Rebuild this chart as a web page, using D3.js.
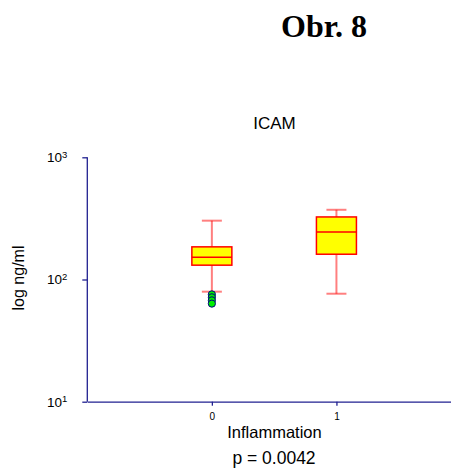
<!DOCTYPE html>
<meta charset="utf-8">
<head>
    <title>ICAM</title>
    <script src="https://cdn.jsdelivr.net/npm/d3@7"></script>
</head>

<style>
    body { margin: 0; background: white; }
    text { font-family: "Liberation Sans", Arial, sans-serif; fill: black; }
    .axis path, .axis line { stroke: #202090; stroke-width: 1.3px; }
    .whisker { stroke: #ff0000; stroke-opacity: 0.5; stroke-width: 2px; }
    .box { fill: #ffff00; stroke: #ff0000; stroke-width: 1.5px; }
    .median { stroke: #ff0000; stroke-width: 1.5px; }
    .outlier { fill: #00ee00; stroke: #000080; stroke-width: 1px; }
</style>
<svg></svg>

<script>
    var vWidth = 451;
    var vHeight = 468;

    // groups and box statistics (ng/ml)
    var vGroups = [0, 1];
    var vWhiskLo = [79.5, 76.5];
    var vQ1 = [131, 161];
    var vMedian = [152, 245];
    var vQ3 = [185, 325];
    var vWhiskHi = [303, 372];
    var vOutliers = [[75.5, 71.5, 67.5, 63.5], []];
    var vYTicks = [10, 100, 1000];

    var svg = d3.select('svg').attr('width', vWidth).attr('height', vHeight);

    var x = d3.scaleLinear().domain([-1, 2]).range([87.3, 461]);
    var y = d3.scaleLog().domain([10, 1000]).range([401.7, 157.3]);

    // titles
    svg.append('text').attr('x', 324).attr('y', 37).attr('text-anchor', 'middle')
        .style('font-family', '"Liberation Serif", "Times New Roman", serif')
        .style('font-weight', 'bold').style('font-size', '32px').text('Obr. 8');
    svg.append('text').attr('x', 274.5).attr('y', 129).attr('text-anchor', 'middle')
        .style('font-size', '17px').text('ICAM');

    // axes
    var gx = svg.append('g').attr('class', 'axis').attr('transform', 'translate(0,' + y.range()[0] + ')')
        .call(d3.axisBottom(x).tickValues(vGroups).tickFormat(d3.format('d'))
            .tickSize(4).tickSizeOuter(0).tickPadding(7));
    gx.selectAll('text').style('font-size', '10px').attr('fill', 'black');

    var gy = svg.append('g').attr('class', 'axis').attr('transform', 'translate(' + x.range()[0] + ',0)')
        .call(d3.axisLeft(y).tickValues(vYTicks).tickSize(5).tickSizeOuter(0).tickPadding(15)
            .tickFormat(function () { return ''; }));
    gy.selectAll('.tick text').each(function (d) {
        var t = d3.select(this).attr('fill', 'black').style('font-size', '13.5px').attr('dy', '0.33em');
        t.append('tspan').text('10');
        t.append('tspan').attr('dy', '-0.5em').style('font-size', '9.5px').text(Math.round(Math.log10(d)));
    });
    gy.select('.domain').attr('d', 'M0,' + y.range()[0] + 'V' + y.range()[1]);

    svg.append('text').attr('transform', 'translate(24,278) rotate(-90)').attr('text-anchor', 'middle')
        .style('font-size', '16px').text('log ng/ml');
    svg.append('text').attr('x', 274.5).attr('y', 437.5).attr('text-anchor', 'middle')
        .style('font-size', '16.5px').text('Inflammation');
    svg.append('text').attr('x', 274).attr('y', 464).attr('text-anchor', 'middle')
        .style('font-size', '17.5px').text('p = 0.0042');

    // boxes
    var vBoxW = 40, vCapW = 20;
    var g = svg.append('g');
    vGroups.forEach(function (k, i) {
        var cx = x(k);
        g.append('line').attr('class', 'whisker').attr('x1', cx).attr('x2', cx)
            .attr('y1', y(vWhiskHi[i])).attr('y2', y(vWhiskLo[i]));
        [vWhiskHi[i], vWhiskLo[i]].forEach(function (v) {
            g.append('line').attr('class', 'whisker').attr('x1', cx - vCapW / 2).attr('x2', cx + vCapW / 2)
                .attr('y1', y(v)).attr('y2', y(v));
        });
        g.append('rect').attr('class', 'box').attr('x', cx - vBoxW / 2).attr('width', vBoxW)
            .attr('y', y(vQ3[i])).attr('height', y(vQ1[i]) - y(vQ3[i]));
        g.append('line').attr('class', 'median').attr('x1', cx - vBoxW / 2).attr('x2', cx + vBoxW / 2)
            .attr('y1', y(vMedian[i])).attr('y2', y(vMedian[i]));
        g.selectAll(null).data(vOutliers[i]).enter().append('circle').attr('class', 'outlier')
            .attr('cx', cx).attr('cy', function (d) { return y(d); }).attr('r', 3.6);
    });
</script>
